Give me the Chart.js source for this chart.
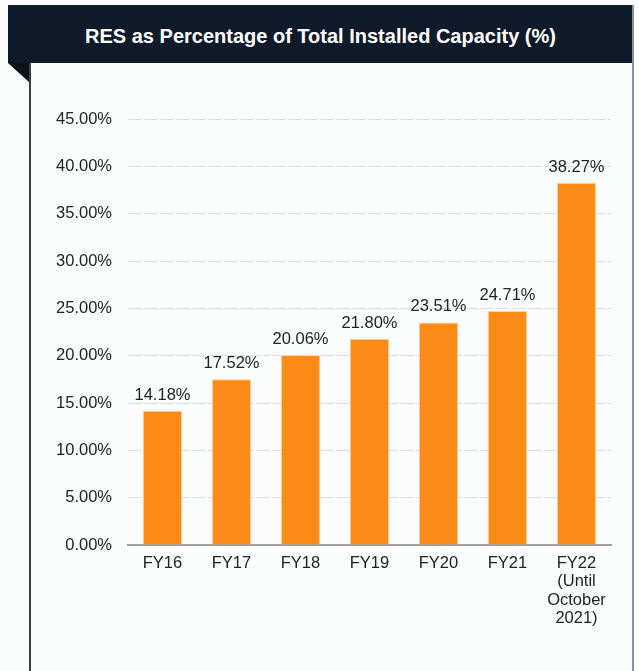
<!DOCTYPE html>
<html>
<head>
<meta charset="UTF-8">
<title>RES as Percentage of Total Installed Capacity</title>
<script src="https://cdn.jsdelivr.net/npm/chart.js@4.4.0/dist/chart.umd.min.js"></script>
<style>
    body { margin: 0; background: #fbfcfc; font-family: "Liberation Sans", Arial, sans-serif; }
    #page { position: relative; width: 639px; height: 671px; overflow: hidden; }
    #header {
        position: absolute; left: 8px; top: 5px; width: 625px; height: 58px;
        background: #0f1a2b; color: #fff; font-weight: bold; font-size: 20px;
        text-align: center; line-height: 63px;
    }
    #notch {
        position: absolute; left: 8px; top: 63px; width: 0; height: 0;
        border-top: 20px solid #0b1118; border-left: 22px solid transparent;
    }
    #leftLine { position: absolute; left: 29px; top: 63px; width: 2px; height: 608px; background: #3a4047; }
    #rightLine { position: absolute; left: 632px; top: 5px; width: 2px; height: 666px; background: #8a9096; }
    #chartBox { position: absolute; left: 31px; top: 63px; width: 601px; height: 608px; }
</style>
</head>
<body>
<div id="page">
    <div id="header">RES as Percentage of Total Installed Capacity (%)</div>
    <div id="notch"></div>
    <div id="leftLine"></div>
    <div id="rightLine"></div>
    <div id="chartBox"><canvas id="myChart" width="601" height="608"></canvas></div>
</div>
<script type="text/javascript">
    var categories = ["FY16", "FY17", "FY18", "FY19", "FY20", "FY21", ["FY22", "(Until", "October", "2021)"]];
    var resShare = [14.18, 17.52, 20.06, 21.80, 23.51, 24.71, 38.27];
    var yTicks = [0, 5, 10, 15, 20, 25, 30, 35, 40, 45];

    var fontFamily = "'Liberation Sans', Arial, sans-serif";

    // draws the value above each bar
    var barLabels = {
        id: "barLabels",
        afterDatasetsDraw: function (chart) {
            var ctx = chart.ctx;
            var meta = chart.getDatasetMeta(0);
            ctx.save();
            ctx.font = "16.5px " + fontFamily;
            ctx.fillStyle = "#222";
            ctx.textAlign = "center";
            ctx.textBaseline = "alphabetic";
            meta.data.forEach(function (bar, i) {
                ctx.fillText(resShare[i].toFixed(2) + "%", bar.x, bar.y - 11);
            });
            ctx.restore();
        }
    };

    new Chart("myChart", {
        type: "bar",
        data: {
            labels: categories,
            datasets: [{
                data: resShare,
                backgroundColor: "#f98b16",
                borderColor: "#fbd3a8",
                borderWidth: { left: 1, right: 1, top: 1, bottom: 0 },
                barPercentage: 0.57,
                categoryPercentage: 1
            }]
        },
        options: {
            responsive: false,
            animation: false,
            layout: { padding: { top: 56, right: 21, left: 0, bottom: 0 } },
            plugins: { legend: { display: false }, tooltip: { enabled: false } },
            scales: {
                x: {
                    grid: { display: false, drawOnChartArea: false, drawTicks: true, tickLength: 6, tickColor: "#999" },
                    border: { display: true, color: "#a0a0a0", width: 2 },
                    ticks: {
                        color: "#222", padding: 3, maxRotation: 0, autoSkip: false,
                        font: { family: fontFamily, size: 16.5, lineHeight: 1.12 }
                    },
                    afterFit: function (scale) { scale.height = 126; }
                },
                y: {
                    min: 0, max: 45,
                    afterBuildTicks: function (scale) {
                        scale.ticks = yTicks.map(function (v) { return { value: v }; });
                    },
                    grid: { color: "#dedede", drawTicks: false, lineWidth: 1 },
                    border: { display: false, dash: [14, 2] },
                    ticks: {
                        color: "#222", padding: 16,
                        font: { family: fontFamily, size: 16.5 },
                        callback: function (v) { return v.toFixed(2) + "%"; }
                    },
                    afterFit: function (scale) { scale.width = 97; }
                }
            }
        },
        plugins: [barLabels]
    });
</script>
</body>
</html>
